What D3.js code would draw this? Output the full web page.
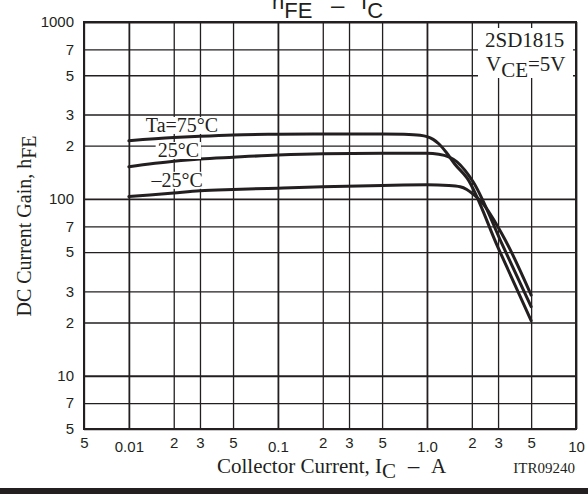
<!DOCTYPE html>
<html>
<head>
<meta charset="utf-8">
<script src="https://cdn.jsdelivr.net/npm/d3@7"></script>
<style>
  body { margin: 0; background: #fff; }
  svg { display: block; }
  .sans { font-family: "Liberation Sans", Arial, sans-serif; }
  .serif { font-family: "Liberation Serif", "Times New Roman", serif; }
</style>
</head>
<body>
<div class="hfe-chart"></div>
<script>
// tick values / labels
const currentTicks = [0.005, 0.01, 0.02, 0.03, 0.05, 0.1, 0.2, 0.3, 0.5, 1, 2, 3, 5, 10];
const currentTickLabels = ['5', '0.01', '2', '3', '5', '0.1', '2', '3', '5', '1.0', '2', '3', '5', '10'];
const gainTicks = [5, 7, 10, 20, 30, 50, 70, 100, 200, 300, 500, 700, 1000];
const gainTickLabels = ['5', '7', '10', '2', '3', '5', '7', '100', '2', '3', '5', '7', '1000'];

// curves (Ic in A, hFE)
const seriesNames = ['Ta=75°C', '25°C', '–25°C'];
const current75 = [0.01, 0.02, 0.03, 0.05, 0.1, 0.2, 0.5, 0.7, 0.9, 1.0, 1.1, 1.2, 1.35, 1.54, 1.86, 3, 5];
const gain75    = [213, 222, 226, 230, 232, 233, 233, 232, 229, 225, 217, 205, 183, 157, 131, 53, 20.5];
const current25 = [0.01, 0.02, 0.03, 0.05, 0.1, 0.2, 0.5, 1.0, 1.2, 1.4, 1.59, 1.8, 2.04, 3.21, 5];
const gain25    = [152, 163, 168, 172, 177, 180, 181, 181, 179, 173, 162, 145, 125, 54.9, 24.6];
const currentM25 = [0.01, 0.02, 0.03, 0.05, 0.1, 0.2, 0.5, 1.0, 1.4, 1.67, 1.85, 2.05, 2.3, 3.35, 5];
const gainM25    = [103, 108, 111, 113, 115, 117, 119, 120, 119, 117, 113, 106, 97, 58.6, 28.6];

// where the temperature labels sit (data units, left/baseline)
const labelCurrent = [0.013, 0.0156, 0.0142];
const labelGain = [239, 172.5, 117];

const ink = '#231f20';

function setupCanvas() {
    const svg_width = 588;
    const svg_height = 494;
    const chart_margin = {top: 22, right: 12, bottom: 65, left: 84};
    const chart_width = svg_width - (chart_margin.left + chart_margin.right);
    const chart_height = svg_height - (chart_margin.top + chart_margin.bottom);

    const svg = d3.select('.hfe-chart').append('svg')
        .attr('width', svg_width).attr('height', svg_height);
    const g = svg.append('g')
        .attr('transform', `translate(${chart_margin.left},${chart_margin.top})`);

    const xScale = d3.scaleLog().domain([0.005, 10]).range([0, chart_width]);
    const yScale = d3.scaleLog().domain([5, 1000]).range([chart_height, 0]);
    const isDecade = d => Math.abs(Math.log10(d) % 1) < 1e-6;

    // grid
    const xGrid = d3.axisBottom(xScale).tickValues(currentTicks)
        .tickSize(-chart_height).tickFormat('');
    g.append('g').attr('class', 'x grid')
        .attr('transform', `translate(0,${chart_height})`)
        .call(xGrid)
        .call(s => s.select('.domain').remove())
        .selectAll('line')
        .attr('stroke', ink)
        .attr('stroke-width', d => isDecade(d) ? 1.8 : 1.3);

    const yGrid = d3.axisLeft(yScale).tickValues(gainTicks)
        .tickSize(-chart_width).tickFormat('');
    g.append('g').attr('class', 'y grid')
        .call(yGrid)
        .call(s => s.select('.domain').remove())
        .selectAll('line')
        .attr('stroke', ink)
        .attr('stroke-width', d => isDecade(d) ? 1.8 : 1.3);

    // frame
    g.append('rect').attr('width', chart_width).attr('height', chart_height)
        .attr('fill', 'none').attr('stroke', ink).attr('stroke-width', 2);

    // tick labels
    const xAxis = d3.axisBottom(xScale).tickValues(currentTicks).tickSize(0)
        .tickFormat((d, i) => currentTickLabels[i]);
    g.append('g').attr('class', 'x axis sans')
        .attr('transform', `translate(0,${chart_height})`)
        .call(xAxis)
        .call(s => s.select('.domain').remove())
        .selectAll('text')
        .attr('y', (d, i) => (i > 0 && currentTickLabels[i].length > 1) ? 12.5 : 8.5)
        .style('font-size', '15px').style('fill', ink);

    const yAxis = d3.axisLeft(yScale).tickValues(gainTicks).tickSize(0).tickPadding(10)
        .tickFormat((d, i) => gainTickLabels[i]);
    g.append('g').attr('class', 'y axis sans')
        .call(yAxis)
        .call(s => s.select('.domain').remove())
        .selectAll('text')
        .style('font-size', '15px').style('fill', ink);

    // curves
    const lineGen = d3.line()
        .x(d => xScale(d[0]))
        .y(d => yScale(d[1]))
        .curve(d3.curveMonotoneX);
    const series = [
        {name: seriesNames[0], values: d3.zip(current75, gain75)},
        {name: seriesNames[1], values: d3.zip(current25, gain25)},
        {name: seriesNames[2], values: d3.zip(currentM25, gainM25)}
    ];
    g.append('g').attr('class', 'curves')
        .selectAll('path').data(series).enter()
        .append('path')
        .attr('d', d => lineGen(d.values))
        .attr('fill', 'none')
        .attr('stroke', ink)
        .attr('stroke-width', 3)
        .attr('stroke-linecap', 'round');

    // temperature labels with white background
    const labels = g.append('g').attr('class', 'series-labels serif')
        .selectAll('g').data(seriesNames).enter().append('g');
    labels.append('text')
        .attr('x', (d, i) => xScale(labelCurrent[i]))
        .attr('y', (d, i) => yScale(labelGain[i]))
        .text(d => d)
        .style('font-size', '20px').style('fill', ink);
    labels.each(function () {
        const t = d3.select(this).select('text');
        const bb = t.node().getBBox();
        d3.select(this).insert('rect', 'text')
            .attr('x', bb.x - 2).attr('y', bb.y + 3)
            .attr('width', bb.width + 4).attr('height', bb.height - 5)
            .attr('fill', '#fff');
    });

    // part number box
    const box = svg.append('g').attr('class', 'serif').style('fill', ink);
    box.append('rect').attr('x', 478).attr('y', 28).attr('width', 95).attr('height', 50)
        .attr('fill', '#fff');
    box.append('text').attr('x', 485).attr('y', 47).text('2SD1815').style('font-size', '21px');
    const vce = box.append('text').attr('x', 486).attr('y', 71).style('font-size', '21px');
    vce.append('tspan').text('V');
    vce.append('tspan').attr('dy', 6).text('CE');
    vce.append('tspan').attr('dy', -6).text('=5V');

    // title (sits at the very top, partly clipped like the original)
    const title = svg.append('text').attr('class', 'sans')
        .attr('x', 272).attr('y', 9).style('font-size', '22px').style('fill', ink);
    title.append('tspan').text('h');
    title.append('tspan').attr('dy', 9).text('FE');
    title.append('tspan').attr('x', 331).attr('dy', -5).style('font-size', '24px').text('–');
    title.append('tspan').attr('x', 361).attr('dy', -4).text('I');
    title.append('tspan').attr('dy', 9).text('C');

    // axis titles
    const yTitle = svg.append('text').attr('class', 'serif')
        .attr('transform', 'translate(31,226) rotate(-90)')
        .attr('text-anchor', 'middle')
        .style('font-size', '20px').style('fill', ink);
    yTitle.append('tspan').text('DC Current Gain, h');
    yTitle.append('tspan').attr('dy', 5).text('FE');

    const xTitle = svg.append('text').attr('class', 'serif')
        .attr('x', 217).attr('y', 473)
        .style('font-size', '21px').style('fill', ink);
    xTitle.append('tspan').text('Collector Current, I');
    xTitle.append('tspan').attr('dy', 5).text('C');
    xTitle.append('tspan').attr('dy', -5).attr('class', 'sans').attr('xml:space', 'preserve').text('  –  ');
    xTitle.append('tspan').text('A');

    svg.append('text').attr('class', 'serif')
        .attr('x', 575).attr('y', 473).attr('text-anchor', 'end')
        .style('font-size', '15px').style('fill', ink)
        .text('ITR09240');

    // bottom rule
    svg.append('rect').attr('x', 0).attr('y', 488).attr('width', svg_width).attr('height', 6)
        .attr('fill', ink);
}

setupCanvas();
</script>
</body>
</html>
